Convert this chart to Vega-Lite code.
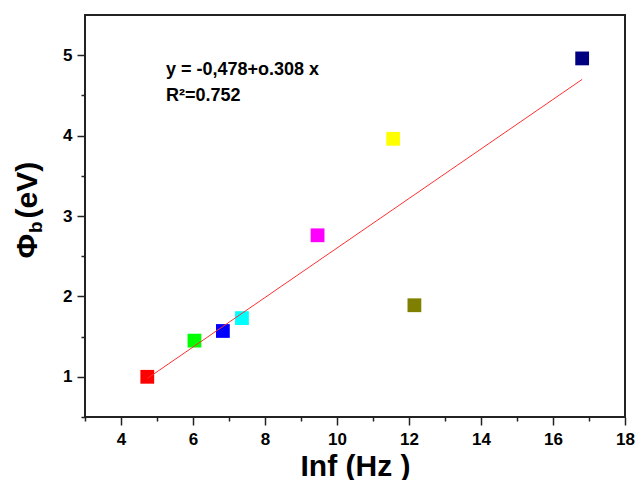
{
  "$schema": "https://vega.github.io/schema/vega-lite/v6.json",
  "width": 540,
  "height": 402,
  "autosize": {"type": "none"},
  "padding": {"left": 85, "top": 15, "right": 10, "bottom": 63},
  "background": "white",
  "config": {
    "view": {"stroke": "#222222", "strokeWidth": 2},
    "font": "Liberation Sans"
  },
  "resolve": {"axis": {"x": "independent", "y": "independent"}},
  "datasets": {
    "samples": [
      {"sample": "red", "inf": 4.73, "phi": 1.0},
      {"sample": "green", "inf": 6.04, "phi": 1.45},
      {"sample": "blue", "inf": 6.83, "phi": 1.57},
      {"sample": "cyan", "inf": 7.36, "phi": 1.73},
      {"sample": "magenta", "inf": 9.46, "phi": 2.76},
      {"sample": "yellow", "inf": 11.56, "phi": 3.96},
      {"sample": "olive", "inf": 12.15, "phi": 1.89},
      {"sample": "navy", "inf": 16.81, "phi": 4.96}
    ],
    "fit": [
      {"inf": 4.73, "phi": 0.979},
      {"inf": 16.81, "phi": 4.699}
    ]
  },
  "layer": [
    {
      "data": {"name": "samples"},
      "mark": {"type": "point", "shape": "square", "filled": true, "size": 190, "opacity": 1},
      "encoding": {
        "x": {
          "field": "inf",
          "type": "quantitative",
          "scale": {"domain": [3, 18], "nice": false, "zero": false},
          "axis": {
            "orient": "bottom",
            "values": [3, 4, 5, 6, 7, 8, 9, 10, 11, 12, 13, 14, 15, 16, 17, 18],
            "labelExpr": "datum.value % 2 == 0 ? format(datum.value, 'd') : ''",
            "tickSize": {"condition": {"test": "datum.value % 2 == 0", "value": 8}, "value": 4},
            "tickColor": "#222222",
            "tickWidth": 1.5,
            "domain": false,
            "grid": false,
            "labelFontSize": 17,
            "labelFontWeight": "bold",
            "labelColor": "#000000",
            "labelPadding": 6,
            "labelFlush": false,
            "labelOverlap": false,
            "title": "Inf (Hz )",
            "titleFontSize": 30,
            "titleFontWeight": "bold",
            "titleColor": "#000000",
            "titleBaseline": "alphabetic",
            "titleY": 58
          }
        },
        "y": {
          "field": "phi",
          "type": "quantitative",
          "scale": {"domain": [0.5, 5.5], "nice": false, "zero": false},
          "axis": {
            "orient": "left",
            "values": [0.5, 1, 1.5, 2, 2.5, 3, 3.5, 4, 4.5, 5],
            "labelExpr": "datum.value % 1 == 0 ? format(datum.value, 'd') : ''",
            "tickSize": {"condition": {"test": "datum.value % 1 == 0", "value": 8}, "value": 4},
            "tickColor": "#222222",
            "tickWidth": 1.5,
            "domain": false,
            "grid": false,
            "labelFontSize": 17,
            "labelFontWeight": "bold",
            "labelColor": "#000000",
            "labelPadding": 5,
            "labelFlush": false,
            "labelOverlap": false,
            "title": null
          }
        },
        "color": {
          "field": "sample",
          "type": "nominal",
          "scale": {
            "domain": ["red", "green", "blue", "cyan", "magenta", "yellow", "olive", "navy"],
            "range": ["#ff0000", "#00ff00", "#0000ff", "#00ffff", "#ff00ff", "#ffff00", "#808000", "#000080"]
          },
          "legend": null
        }
      }
    },
    {
      "data": {"name": "fit"},
      "mark": {"type": "line", "color": "#ff3030", "strokeWidth": 1},
      "encoding": {
        "x": {"field": "inf", "type": "quantitative", "axis": null},
        "y": {"field": "phi", "type": "quantitative", "axis": null}
      }
    },
    {
      "data": {"values": [{"label": "y = -0,478+o.308 x"}]},
      "mark": {"type": "text", "align": "left", "baseline": "alphabetic", "fontSize": 18, "fontWeight": "bold", "color": "#000000"},
      "encoding": {
        "text": {"field": "label", "type": "nominal"},
        "x": {"datum": 5.25, "type": "quantitative", "axis": null},
        "y": {"datum": 4.75, "type": "quantitative", "axis": null}
      }
    },
    {
      "data": {"values": [{"label": "R²=0.752"}]},
      "mark": {"type": "text", "align": "left", "baseline": "alphabetic", "fontSize": 18, "fontWeight": "bold", "color": "#000000"},
      "encoding": {
        "text": {"field": "label", "type": "nominal"},
        "x": {"datum": 5.25, "type": "quantitative", "axis": null},
        "y": {"datum": 4.43, "type": "quantitative", "axis": null}
      }
    },
    {
      "data": {"values": [{"label": "Φ"}]},
      "mark": {"type": "text", "align": "center", "baseline": "alphabetic", "angle": 270, "dy": -48, "fontSize": 30, "fontWeight": "bold", "color": "#000000"},
      "encoding": {
        "text": {"field": "label", "type": "nominal"},
        "x": {"datum": 3, "type": "quantitative", "axis": null},
        "y": {"datum": 2.626, "type": "quantitative", "axis": null}
      }
    },
    {
      "data": {"values": [{"label": "b"}]},
      "mark": {"type": "text", "align": "center", "baseline": "alphabetic", "angle": 270, "dy": -43, "fontSize": 19, "fontWeight": "bold", "color": "#000000"},
      "encoding": {
        "text": {"field": "label", "type": "nominal"},
        "x": {"datum": 3, "type": "quantitative", "axis": null},
        "y": {"datum": 2.862, "type": "quantitative", "axis": null}
      }
    },
    {
      "data": {"values": [{"label": "(eV)"}]},
      "mark": {"type": "text", "align": "center", "baseline": "alphabetic", "angle": 270, "dy": -48, "fontSize": 30, "fontWeight": "bold", "color": "#000000"},
      "encoding": {
        "text": {"field": "label", "type": "nominal"},
        "x": {"datum": 3, "type": "quantitative", "axis": null},
        "y": {"datum": 3.322, "type": "quantitative", "axis": null}
      }
    }
  ]
}
